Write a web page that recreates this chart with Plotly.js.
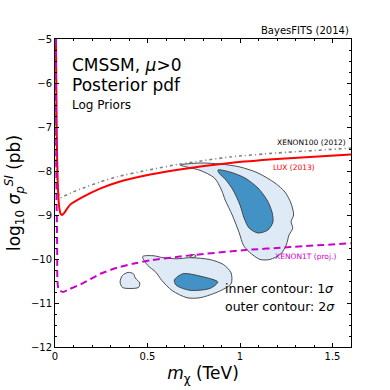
<!DOCTYPE html>
<html>
<head>
<meta charset="utf-8">
<script src="https://cdn.plot.ly/plotly-3.0.1.min.js"></script>
<style>
  html, body { margin: 0; padding: 0; background: #fff; }
  #chart { width: 390px; height: 390px; }
</style>
</head>
<body>
<div id="chart"></div>
<script>
// ── limits (log10 sigma_p^SI vs m_chi in TeV) ──
const luxX = [0.005, 0.007, 0.009, 0.012, 0.016, 0.022, 0.03, 0.038, 0.05, 0.081, 0.151, 0.243, 0.335, 0.514, 0.665, 0.946, 1.2, 1.6];
const luxY = [-5, -6, -7, -7.8, -8.4, -8.8, -8.97, -9.0, -8.95, -8.77, -8.59, -8.40, -8.26, -8.08, -7.97, -7.82, -7.73, -7.625];

const x100X = [0.003, 0.004, 0.006, 0.01, 0.018, 0.027, 0.05, 0.1, 0.151, 0.243, 0.335, 0.514, 0.665, 0.946, 1.2, 1.6];
const x100Y = [-5, -6.5, -7.6, -8.2, -8.5, -8.61, -8.57, -8.47, -8.39, -8.25, -8.13, -7.97, -7.85, -7.68, -7.59, -7.48];

const x1tX = [0.004, 0.008, 0.011, 0.012, 0.013, 0.02, 0.043, 0.08, 0.151, 0.243, 0.335, 0.42, 0.514, 0.665, 0.746, 1.016, 1.27, 1.6];
const x1tY = [-5, -8.5, -9.4, -10.0, -10.5, -10.7, -10.75, -10.68, -10.55, -10.34, -10.2, -10.11, -10.03, -9.95, -9.91, -9.8, -9.73, -9.64];

// ── posterior contours ──
const upOuterX = [0.676, 0.784, 0.892, 1.0, 1.097, 1.189, 1.243, 1.275, 1.29, 1.276, 1.285, 1.265, 1.25, 1.22, 1.162, 1.108, 1.05, 1.018, 0.996, 0.958, 0.92, 0.9, 0.862, 0.784, 0.719, 0.676];
const upOuterY = [-7.864, -7.818, -7.841, -7.909, -8.045, -8.273, -8.477, -8.727, -9.0, -9.15, -9.3, -9.455, -9.682, -9.886, -10.01, -10.01, -9.841, -9.682, -9.409, -9.0, -8.659, -8.432, -8.159, -7.985, -7.915, -7.864];

const upInnerX = [0.881, 0.946, 1.027, 1.097, 1.146, 1.173, 1.178, 1.151, 1.097, 1.049, 1.022, 1.0, 0.962, 0.924, 0.886, 0.881];
const upInnerY = [-7.977, -8.023, -8.159, -8.386, -8.659, -8.932, -9.159, -9.341, -9.409, -9.295, -9.068, -8.773, -8.432, -8.205, -8.045, -7.977];

const loOuterX = [0.474, 0.53, 0.584, 0.659, 0.73, 0.84, 0.912, 0.952, 0.952, 0.895, 0.784, 0.714, 0.634, 0.578, 0.545, 0.5, 0.474];
const loOuterY = [-9.945, -9.925, -9.97, -9.995, -9.97, -10.015, -10.13, -10.318, -10.56, -10.72, -10.88, -10.88, -10.72, -10.49, -10.3, -10.14, -9.945];

const loInnerX = [0.645, 0.692, 0.8, 0.88, 0.84, 0.73, 0.655, 0.645];
const loInnerY = [-10.477, -10.335, -10.405, -10.523, -10.665, -10.712, -10.595, -10.477];

const islandX = [0.352, 0.364, 0.395, 0.424, 0.434, 0.458, 0.452, 0.405, 0.364, 0.352];
const islandY = [-10.523, -10.376, -10.305, -10.335, -10.432, -10.545, -10.645, -10.67, -10.645, -10.523];

const dotX = [0.728, 0.746, 0.764, 0.746, 0.728];
const dotY = [-9.932, -9.895, -9.932, -9.969, -9.932];

const FONT = 'DejaVu Sans, Arial, sans-serif';
const LIGHT = '#deebf7';
const DARK = '#4292c6';
const EDGE = '#3a3a3a';

function patch(x, y, fill) {
    return {
        type: 'scatter', mode: 'lines', x: x, y: y,
        fill: 'toself', fillcolor: fill,
        line: { color: EDGE, width: 0.9, shape: 'spline', smoothing: 0.8 },
        hoverinfo: 'skip', showlegend: false,
    };
}

const traces = [
    patch(upOuterX, upOuterY, LIGHT),
    patch(upInnerX, upInnerY, DARK),
    patch(loOuterX, loOuterY, LIGHT),
    patch(loInnerX, loInnerY, DARK),
    patch(islandX, islandY, LIGHT),
    patch(dotX, dotY, LIGHT),
    {
        type: 'scatter', mode: 'lines', x: x100X, y: x100Y,
        line: { color: '#808080', width: 1.6, dash: '1px,3px,3px,3px', shape: 'spline', smoothing: 0.5 },
        showlegend: false,
    },
    {
        type: 'scatter', mode: 'lines', x: luxX, y: luxY,
        line: { color: '#ff0000', width: 2, shape: 'spline', smoothing: 0.5 },
        showlegend: false,
    },
    {
        type: 'scatter', mode: 'lines', x: x1tX, y: x1tY,
        line: { color: '#cc00cc', width: 2, dash: '7px,4px', shape: 'spline', smoothing: 0.5 },
        showlegend: false,
    },
];

const layout = {
    width: 390, height: 390,
    margin: { l: 55, r: 39, t: 39, b: 43 },
    paper_bgcolor: '#fff', plot_bgcolor: '#fff',
    font: { family: FONT, size: 10, color: '#000' },
    showlegend: false,
    xaxis: {
        range: [0, 1.6], tickvals: [0, 0.5, 1, 1.5], ticktext: ['0', '0.5', '1', '1.5'],
        ticks: 'inside', ticklen: 4, tickcolor: '#000', showgrid: false, zeroline: false,
        showline: true, linecolor: '#000', linewidth: 1, mirror: 'ticks',
        minor: { dtick: 0.1, ticks: 'inside', ticklen: 2, tickcolor: '#000', showgrid: false },
        tickfont: { size: 10 },
        title: { text: '<i>m</i><sub>χ</sub> (TeV)', font: { size: 17 }, standoff: 6 },
    },
    yaxis: {
        range: [-12, -5], dtick: 1,
        ticks: 'inside', ticklen: 4, tickcolor: '#000', showgrid: false, zeroline: false,
        showline: true, linecolor: '#000', linewidth: 1, mirror: 'ticks',
        minor: { dtick: 0.25, ticks: 'inside', ticklen: 2, tickcolor: '#000', showgrid: false },
        tickfont: { size: 10 },
        title: { text: 'log<sub>10</sub> <i>σ</i><sub><i>p</i></sub><sup><i>SI</i></sup> (pb)', font: { size: 17 }, standoff: 5 },
    },
    annotations: [
        { text: 'BayesFITS (2014)', xref: 'paper', yref: 'paper', x: 1, y: 1, xanchor: 'right', yanchor: 'bottom', yshift: 1, showarrow: false, font: { size: 10 } },
        { text: 'CMSSM, <i>μ</i>>0', xref: 'paper', yref: 'paper', x: 0.05, y: 0.915, xanchor: 'left', yanchor: 'middle', showarrow: false, font: { size: 17 } },
        { text: 'Posterior pdf', xref: 'paper', yref: 'paper', x: 0.05, y: 0.852, xanchor: 'left', yanchor: 'middle', showarrow: false, font: { size: 17 } },
        { text: 'Log Priors', xref: 'paper', yref: 'paper', x: 0.05, y: 0.787, xanchor: 'left', yanchor: 'middle', showarrow: false, font: { size: 12 } },
        { text: 'XENON100 (2012)', xref: 'x', yref: 'y', x: 1.583, y: -7.36, xanchor: 'right', yanchor: 'middle', showarrow: false, font: { size: 7.5, color: '#000' } },
        { text: 'LUX (2013)', xref: 'x', yref: 'y', x: 1.418, y: -7.93, xanchor: 'right', yanchor: 'middle', showarrow: false, font: { size: 7.5, color: '#ff0000' } },
        { text: 'XENON1T (proj.)', xref: 'x', yref: 'y', x: 1.53, y: -9.95, xanchor: 'right', yanchor: 'middle', showarrow: false, font: { size: 7.5, color: '#cc00cc' } },
        { text: 'inner contour: 1<i>σ</i>', xref: 'x', yref: 'y', x: 0.908, y: -10.68, xanchor: 'left', yanchor: 'middle', showarrow: false, font: { size: 12.5 } },
        { text: 'outer contour: 2<i>σ</i>', xref: 'x', yref: 'y', x: 0.908, y: -11.07, xanchor: 'left', yanchor: 'middle', showarrow: false, font: { size: 12.5 } },
    ],
};

Plotly.newPlot('chart', traces, layout, { displayModeBar: false, staticPlot: true });
</script>
</body>
</html>
